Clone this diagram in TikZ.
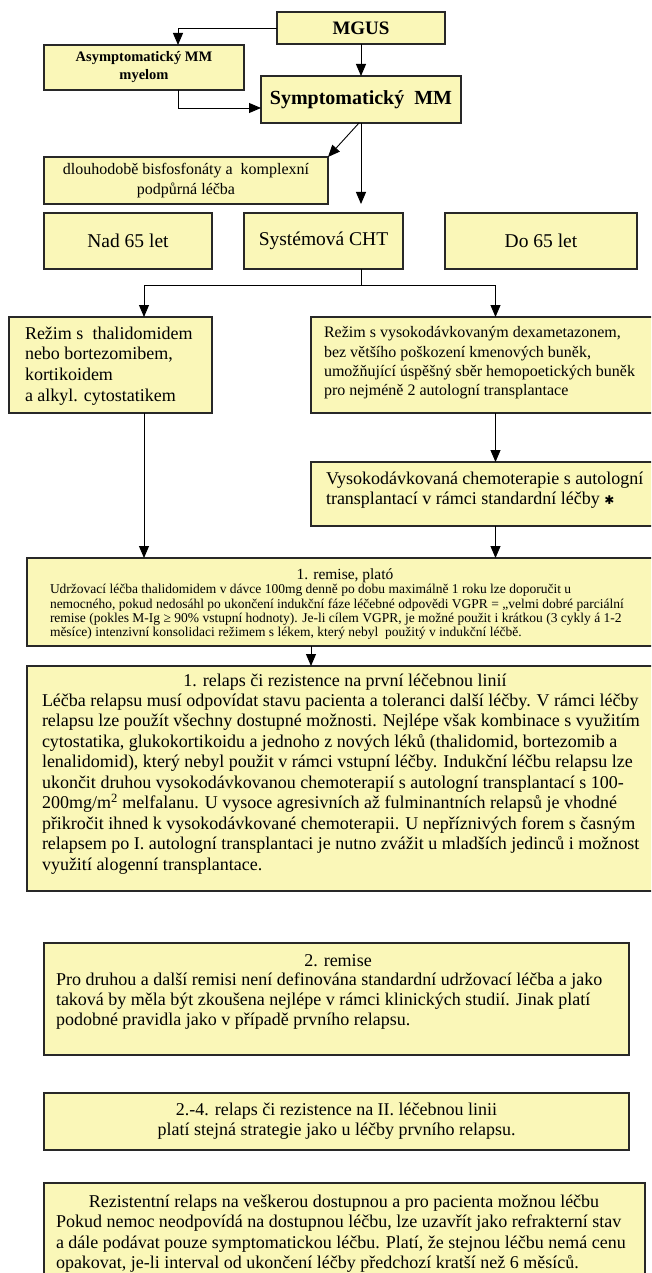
\documentclass[tikz,border=0pt]{standalone}
\usepackage{fontspec}
\setmainfont{Liberation Serif}
\newfontfamily\symfont{DejaVu Sans}
\usetikzlibrary{arrows.meta}
\definecolor{boxfill}{RGB}{250,247,184}
\definecolor{boxline}{RGB}{40,40,40}
\newcommand\fsz[2]{\fontsize{#1}{#2}\selectfont}
\begin{document}
\begin{tikzpicture}[x=1pt,y=-1pt,
  box/.style={draw=boxline, fill=boxfill, line width=1.1pt, inner sep=0pt, outer sep=0pt, rectangle},
  txt/.style={inner sep=0pt, outer sep=0pt, text=black},
  conn/.style={draw=black, line width=0.9pt, -{Triangle[length=12pt,width=10pt]}},
  plain/.style={draw=black, line width=0.9pt}]
\useasboundingbox (0,0) rectangle (651,1273);
\clip (0,0) rectangle (651,1273);

% top
\node[box, minimum width=168pt, minimum height=32pt, font=\bfseries\fsz{19}{22}] (mgus) at (361,28) {MGUS};
\node[box, minimum width=200pt, minimum height=45pt, align=center, font=\bfseries\fsz{14.5}{18}] (asym) at (144,67.5) {Asymptomatický MM\\myelom};
\node[box, minimum width=200pt, minimum height=47pt, font=\bfseries\fsz{20}{24}] (sympt) at (361,99.5) {Symptomatický\ \ MM};
\node[box, minimum width=284pt, minimum height=47pt, align=center, font=\fsz{16}{20}] (bisf) at (186,180.5) {dlouhodobě bisfosfonáty a\ \ komplexní\\podpůrná léčba};

\node[box, minimum width=168pt, minimum height=56pt, font=\fsz{19.5}{23}] (nad) at (128,241) {Nad 65 let};
\node[box, minimum width=159pt, minimum height=56pt, font=\fsz{19.5}{23}] (syst) at (323.5,241) {Systémová CHT};
\node[box, minimum width=192pt, minimum height=56pt, font=\fsz{19.5}{23}] (do) at (541,241) {Do 65 let};

% regimes
\node[box, minimum width=203pt, minimum height=96pt] (lreg) at (110.5,365) {};
\node[txt, anchor=west, align=left, font=\fsz{18}{20.7}] (lregt) at (25,366) {Režim s\ \ thalidomidem\\nebo bortezomibem,\\kortikoidem\\a alkyl. cytostatikem};
\node[box, minimum width=369pt, minimum height=96pt] (rreg) at (495.5,365) {};
\node[txt, anchor=west, align=left, font=\fsz{16}{19.3}] (rregt) at (324,363) {Režim s vysokodávkovaným dexametazonem,\\bez většího poškození kmenových buněk,\\umožňující úspěšný sběr hemopoetických buněk\\pro nejméně 2 autologní transplantace};

\node[box, minimum width=369pt, minimum height=64pt] (vysok) at (495.5,494) {};
\node[txt, anchor=west, align=left, font=\fsz{18}{20.5}] (vysokt) at (326,490) {Vysokodávkovaná chemoterapie s autologní\\transplantací v rámci standardní léčby {\symfont\fsz{12}{12}✱}};

% 1. remise
\node[box, minimum width=653pt, minimum height=88pt] (rem1) at (353.5,602) {};
\node[txt, font=\fsz{15.5}{18}] (rem1h) at (345,576) {1. remise, plató};
\node[txt, anchor=west, align=left, font=\fsz{13.5}{14.3}] (rem1t) at (50,612) {Udržovací léčba thalidomidem v dávce 100mg denně po dobu maximálně 1 roku lze doporučit u\\nemocného, pokud nedosáhl po ukončení indukční fáze léčebné odpovědi VGPR = „velmi dobré parciální\\remise (pokles M-Ig ≥ 90\% vstupní hodnoty). Je-li cílem VGPR, je možné použit i krátkou (3 cykly á 1-2\\měsíce) intenzivní konsolidaci režimem s lékem, který nebyl\ \ použitý v indukční léčbě.};

% 1. relaps
\node[box, minimum width=653pt, minimum height=225pt] (rel1) at (353.5,778.5) {};
\node[txt, font=\fsz{18}{20.5}] (rel1h) at (345,682) {1. relaps či rezistence na první léčebnou linií};
\node[txt, anchor=west, align=left, font=\fsz{18}{20.5}] (rel1t) at (42,784) {Léčba relapsu musí odpovídat stavu pacienta a toleranci další léčby. V rámci léčby\\relapsu lze použít všechny dostupné možnosti. Nejlépe však kombinace s využitím\\cytostatika, glukokortikoidu a jednoho z nových léků (thalidomid, bortezomib a\\lenalidomid), který nebyl použit v rámci vstupní léčby. Indukční léčbu relapsu lze\\ukončit druhou vysokodávkovanou chemoterapií s autologní transplantací s 100-\\200mg/m\textsuperscript{2} melfalanu. U vysoce agresivních až fulminantních relapsů je vhodné\\přikročit ihned k vysokodávkované chemoterapii. U nepříznivých forem s časným\\relapsem po I. autologní transplantaci je nutno zvážit u mladších jedinců i možnost\\využití alogenní transplantace.};

% 2. remise
\node[box, minimum width=585pt, minimum height=112pt] (rem2) at (336.5,999) {};
\node[txt, font=\fsz{18}{20.3}] (rem2h) at (338,961) {2. remise};
\node[txt, anchor=west, align=left, font=\fsz{18}{20.3}] (rem2t) at (56,1001) {Pro druhou a další remisi není definována standardní udržovací léčba a jako\\taková by měla být zkoušena nejlépe v rámci klinických studií. Jinak platí\\podobné pravidla jako v případě prvního relapsu.};

% 2.-4. relaps
\node[box, minimum width=585pt, minimum height=57pt, align=center, font=\fsz{18}{20}] (rel24) at (336.5,1121.5) {2.-4. relaps či rezistence na II. léčebnou linii\\platí stejná strategie jako u léčby prvního relapsu.};

% rezistentni
\node[box, minimum width=601pt, minimum height=110pt] (rez) at (344.5,1238) {};
\node[txt, font=\fsz{18}{20.5}] (rezh) at (344,1203) {Rezistentní relaps na veškerou dostupnou a pro pacienta možnou léčbu};
\node[txt, anchor=west, align=left, font=\fsz{18}{20.5}] (rezt) at (56,1244) {Pokud nemoc neodpovídá na dostupnou léčbu, lze uzavřít jako refrakterní stav\\a dále podávat pouze symptomatickou léčbu. Platí, že stejnou léčbu nemá cenu\\opakovat, je-li interval od ukončení léčby předchozí kratší než 6 měsíců.};

% connectors
\coordinate (asymin) at (178,45);
\coordinate (asymout) at (178,90);
\coordinate (symptin) at (261,108);
\coordinate (tipA) at (361,204);
\coordinate (split) at (361,285);
\coordinate (lbr) at (144,317);
\coordinate (lbrs) at (144,413);
\coordinate (r1o) at (311,646);

\draw[conn] (mgus.west) -| (asymin);
\draw[conn] (mgus.south) -- (sympt.north);
\draw[conn] (asymout) |- (symptin);
\draw[conn] ([xshift=-2pt]sympt.south) -- (bisf.north east);
\draw[conn] (sympt.south) -- (tipA);
\draw[plain] (syst.south -| split) -- (split);
\draw[conn] (split) -| (lbr);
\draw[conn] (split) -| (rreg.north);
\draw[conn] (lbrs) -- (lbrs |- rem1.north);
\draw[conn] (rreg.south) -- (vysok.north);
\draw[conn] (vysok.south) -- (vysok.south |- rem1.north);
\draw[conn] (r1o) -- (r1o |- rel1.north);
\end{tikzpicture}
\end{document}
